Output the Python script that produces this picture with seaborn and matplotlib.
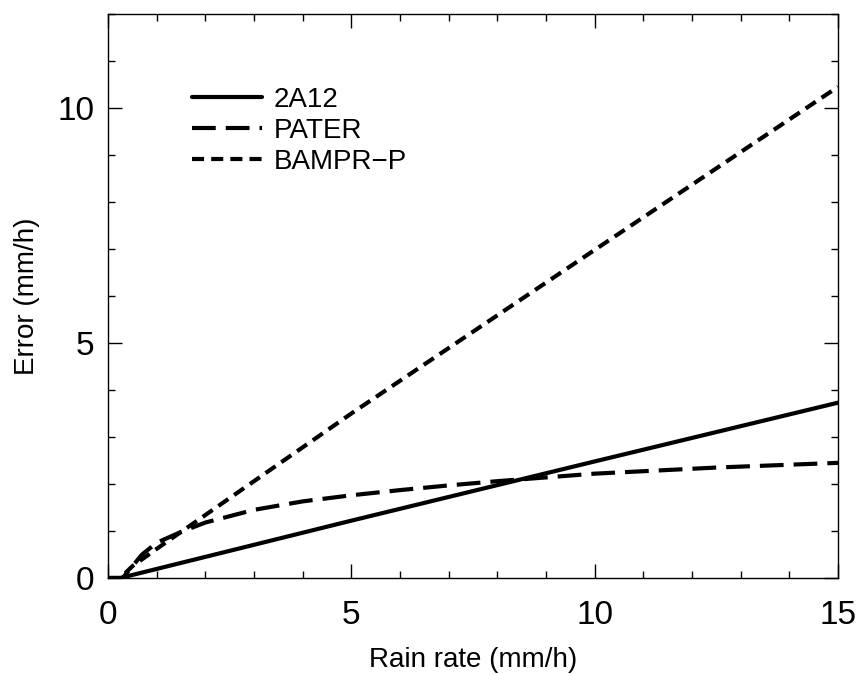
import numpy as np
import pandas as pd
import matplotlib
matplotlib.use("Agg")
import matplotlib.pyplot as plt
from matplotlib.ticker import MultipleLocator
import seaborn as sns

# values
RAIN_2A12  = [0.0, 0.25, 5.0, 10.0, 15.0]
ERR_2A12   = [0.0, 0.0, 1.22, 2.48, 3.73]

RAIN_PATER = [0.0, 0.3, 0.5, 0.7, 1.0, 1.5, 2.0, 3.0, 4.0, 5.0, 6.0, 7.0, 8.0, 9.0, 10.0, 12.5, 15.0]
ERR_PATER  = [0.0, 0.0, 0.25, 0.5, 0.75, 0.98, 1.18, 1.45, 1.63, 1.76, 1.87, 1.97, 2.06, 2.14, 2.22, 2.35, 2.45]

RAIN_BAMPR = [0.0, 0.25, 0.5, 1.0, 5.0, 10.0, 15.0]
ERR_BAMPR  = [0.0, 0.0, 0.25, 0.62, 3.5, 6.98, 10.45]

SERIES = ["2A12", "PATER", "BAMPR\u2212P"]

df = pd.concat([
    pd.DataFrame({"rain": RAIN_2A12,  "err": ERR_2A12,  "model": SERIES[0]}),
    pd.DataFrame({"rain": RAIN_PATER, "err": ERR_PATER, "model": SERIES[1]}),
    pd.DataFrame({"rain": RAIN_BAMPR, "err": ERR_BAMPR, "model": SERIES[2]}),
], ignore_index=True)

sns.set_style("ticks", {"text.color": "black", "axes.labelcolor": "black"})
plt.rcParams["font.family"] = ["Liberation Sans", "DejaVu Sans"]

fig = plt.figure(figsize=(8.6, 6.75), dpi=100)
ax = fig.add_axes([0.1256, 0.1437, 0.8488, 0.8356])

sns.lineplot(data=df, x="rain", y="err", style="model", hue="model",
             palette=["black"] * 3,
             dashes={SERIES[0]: "", SERIES[1]: (5.7, 2.4), SERIES[2]: (2.9, 1.7)},
             linewidth=3, sort=False, estimator=None, ax=ax)

ax.set_xlim(0, 15)
ax.set_ylim(0, 12)
ax.set_xticks([0, 5, 10, 15])
ax.set_yticks([0, 5, 10])
ax.xaxis.set_minor_locator(MultipleLocator(1))
ax.yaxis.set_minor_locator(MultipleLocator(1))
ax.tick_params(which="both", direction="in", top=True, right=True,
               width=1, colors="black", labelsize=24)
ax.tick_params(axis="x", which="both", pad=16)
ax.tick_params(axis="y", which="both", pad=10)
ax.tick_params(which="major", length=10)
ax.tick_params(which="minor", length=5)
for s in ax.spines.values():
    s.set_linewidth(1)
    s.set_color("black")

ax.set_xlabel("Rain rate (mm/h)", fontsize=20, labelpad=11, color="black")
ax.set_ylabel("Error (mm/h)", fontsize=20, labelpad=12, color="black")

leg = ax.legend(loc="upper left", bbox_to_anchor=(0.1, 0.89), frameon=False,
                fontsize=20, handlelength=2.5, handletextpad=0.45,
                labelspacing=0.18, borderaxespad=0)
for t in leg.get_texts():
    t.set_color("black")

fig.savefig("out.png", dpi=100)
